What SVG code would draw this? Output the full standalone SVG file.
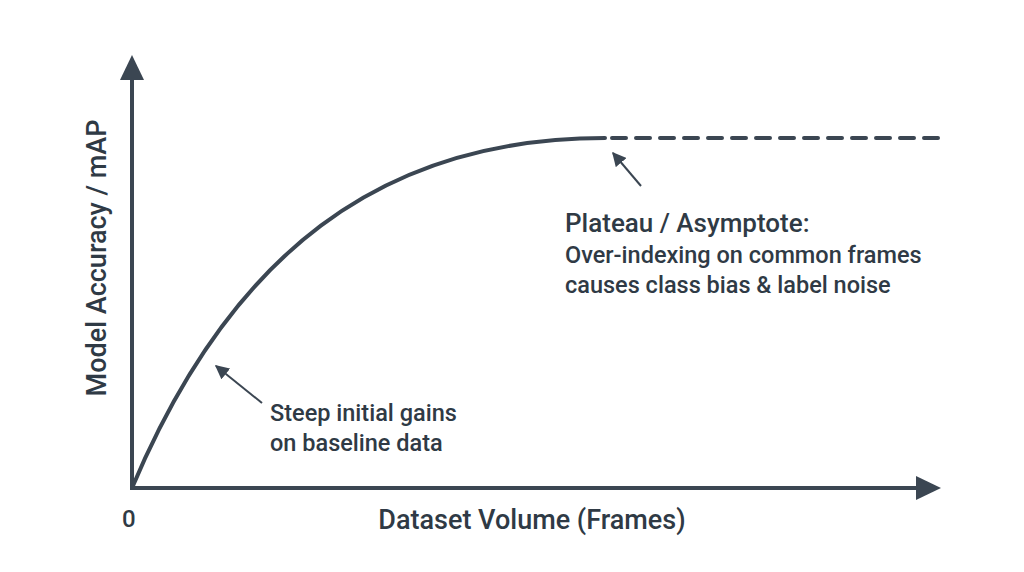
<svg xmlns="http://www.w3.org/2000/svg" width="1024" height="572" viewBox="0 0 1024 572">
<style>
.ax{stroke:#3b4652;stroke-width:4;fill:none}
.cv{stroke:#3b4652;stroke-width:4;fill:none;stroke-linecap:round}
.an{stroke:#3b4652;stroke-width:2;fill:none}
text{font-family:Roboto,"Liberation Sans",sans-serif;fill:#2f3a45;font-weight:500}
</style>
<defs>
<marker id="ah" viewBox="0 0 10 10" refX="9" refY="5" markerWidth="7" markerHeight="7" orient="auto"><path d="M0,0L10,5L0,10z" fill="#3b4652"/></marker>
</defs>
<rect width="1024" height="572" fill="#fff"/>
<g id="connectors">
<line class="ax" x1="132" y1="490" x2="132" y2="78"/>
<path d="M120,80L132,55L144,80z" fill="#3b4652"/>
<line class="ax" x1="130" y1="488" x2="918" y2="488"/>
<path d="M916,476L941,488L916,500z" fill="#3b4652"/>
<path class="cv" d="M132,488 C230,255 380,138 605,138"/>
<line class="cv" x1="612" y1="138" x2="940" y2="138" stroke-dasharray="14,10" stroke-linecap="butt"/>
<line class="an" x1="641" y1="186" x2="613" y2="153" marker-end="url(#ah)"/>
<line class="an" x1="262" y1="403" x2="216" y2="366" marker-end="url(#ah)"/>
</g>
<g id="labels">
<text x="122" y="527" font-size="24">0</text>
<text x="532" y="529" font-size="27" text-anchor="middle">Dataset Volume (Frames)</text>
<text transform="translate(106,258) rotate(-90)" font-size="27" text-anchor="middle">Model Accuracy / mAP</text>
<text x="565" y="232" font-size="26">Plateau / Asymptote:</text>
<text x="565" y="263" font-size="23.5">Over-indexing on common frames</text>
<text x="565" y="293" font-size="23.5">causes class bias &amp; label noise</text>
<text x="270" y="421" font-size="23.5">Steep initial gains</text>
<text x="270" y="451" font-size="23.5">on baseline data</text>
</g>
</svg>
